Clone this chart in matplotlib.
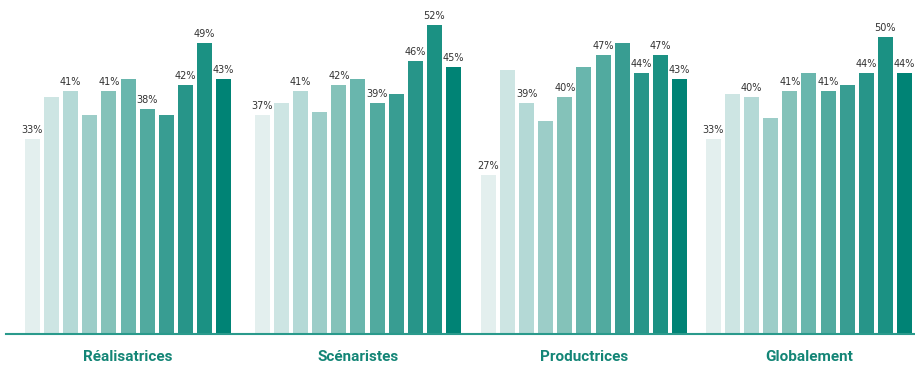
import matplotlib
matplotlib.use("Agg")
import matplotlib.pyplot as plt
from matplotlib.lines import Line2D

categories = ["Réalisatrices", "Scénaristes", "Productrices", "Globalement"]
realisatrices = [33, 40, 41, 37, 41, 43, 38, 37, 42, 49, 43]
scenaristes = [37, 39, 41, 37.5, 42, 43, 39, 40.5, 46, 52, 45]
productrices = [27, 44.5, 39, 36, 40, 45, 47, 49, 44, 47, 43]
globalement = [33, 40.5, 40, 36.5, 41, 44, 41, 42, 44, 50, 44]
labeled = [True, False, True, False, True, False, True, False, True, True, True]
series = [realisatrices, scenaristes, productrices, globalement]

colors = ["#e3efee", "#cde5e3", "#b4d9d6", "#9ccdc8", "#84c2b9", "#69b6ad",
          "#51aa9f", "#389d92", "#279589", "#1b9183", "#008375"]

W, H = 915, 366
fig = plt.figure(figsize=(W / 100, H / 100), dpi=100)
base_px = 333
ax = fig.add_axes([0, (H - base_px) / H, 1, base_px / H])
ax.set_axis_off()

pitch = 19.1
x0 = 32.5
group_offsets = [0, 12.04, 23.87, 35.65]
ax.set_xlim(-x0 / pitch, (W - x0) / pitch)
ymin = 0.7
ax.set_ylim(ymin, ymin + base_px / 6.0)

for g, vals in enumerate(series):
    for j, v in enumerate(vals):
        x = group_offsets[g] + j
        ax.bar(x, v - ymin, bottom=ymin, width=15 / pitch, color=colors[j], linewidth=0)
        if labeled[j]:
            ax.annotate(f"{int(round(v))}%", (x, v), xytext=(0, 3), textcoords="offset points",
                        ha="center", va="bottom", fontsize=7,
                        family=["Liberation Sans Narrow", "DejaVu Sans"], color="#333333")
    cx = group_offsets[g] + 5
    xf = (cx * pitch + x0) / W
    fig.text(xf, 1 - 357 / H, categories[g], ha="center", va="center", fontsize=11,
             fontweight="bold", color="#138576", family=["Roboto", "DejaVu Sans"])

fig.add_artist(Line2D([6 / W, 1], [(H - 333.5) / H] * 2, color="#2a9a8c", linewidth=1.5,
                      transform=fig.transFigure))

fig.savefig("out.png", dpi=100)
